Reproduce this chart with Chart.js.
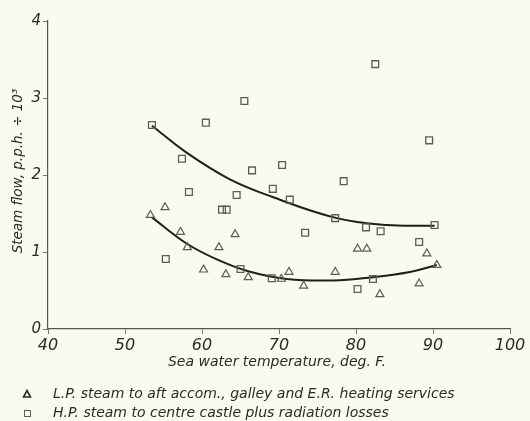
<!DOCTYPE html>
<html>
<head>
<meta charset="utf-8">
<script src="https://cdn.jsdelivr.net/npm/chart.js@4.4.0/dist/chart.umd.min.js"></script>
<style>
    html, body { margin: 0; padding: 0; background: #fbfaee; }
    #wrap { width: 530px; height: 421px; }
</style>
</head>
<body>
<div id="wrap"><canvas id="steamChart" width="530" height="421"></canvas></div>
<script>
// L.P. steam readings (triangles)
const lpTemp = [53.3, 55.2, 57.2, 58.1, 60.2, 62.2, 63.1, 64.3, 66.0, 70.3, 71.3, 73.2, 77.3, 80.2, 81.4, 83.1, 88.2, 89.2, 90.5];
const lpFlow = [1.48, 1.58, 1.26, 1.06, 0.77, 1.06, 0.71, 1.23, 0.67, 0.65, 0.74, 0.56, 0.74, 1.04, 1.04, 0.45, 0.59, 0.98, 0.83];

// H.P. steam readings (squares)
const hpTemp = [53.5, 55.3, 57.4, 58.3, 60.5, 62.6, 63.2, 64.5, 65.0, 65.5, 66.5, 69.05, 69.2, 70.4, 71.4, 73.4, 77.3, 78.4, 80.2, 81.3, 82.2, 82.5, 83.2, 88.2, 89.5, 90.2];
const hpFlow = [2.65, 0.91, 2.21, 1.78, 2.68, 1.55, 1.55, 1.74, 0.78, 2.96, 2.06, 0.66, 1.82, 2.13, 1.68, 1.25, 1.44, 1.92, 0.52, 1.32, 0.65, 3.44, 1.27, 1.13, 2.45, 1.35];

// faired curves through each set
const lpFitTemp = [53.5, 58.0, 62.0, 66.0, 71.0, 77.0, 82.0, 87.0, 90.5];
const lpFitFlow = [1.45, 1.11, 0.90, 0.75, 0.65, 0.63, 0.67, 0.74, 0.83];
const hpFitTemp = [53.5, 58.0, 63.5, 69.0, 77.5, 84.0, 90.2];
const hpFitFlow = [2.64, 2.29, 1.95, 1.72, 1.44, 1.35, 1.34];

const xTicks = [40, 50, 60, 70, 80, 90, 100];
const yTicks = [0, 1, 2, 3, 4];

const xTitle = "Sea water temperature, deg. F.";
const yTitle = "Steam flow, p.p.h. \u00f7 10\u00b3";
const legendLabels = [
    "L.P. steam to aft accom., galley and E.R. heating services",
    "H.P. steam to centre castle plus radiation losses"
];

const PAPER = "#fbfaee";
const INK = "#2a2a2a";
const MARK = "#5c5c5c";
const FONT = "'DejaVu Sans', sans-serif";

function toPoints(xs, ys) {
    return xs.map((x, i) => ({ x: x, y: ys[i] }));
}

const paperPlugin = {
    id: "paper",
    beforeDraw(chart) {
        const ctx = chart.ctx;
        ctx.save();
        ctx.fillStyle = PAPER;
        ctx.fillRect(0, 0, chart.width, chart.height);
        ctx.restore();
    }
};

// axis titles and the key underneath
const captionPlugin = {
    id: "captions",
    afterDraw(chart) {
        const ctx = chart.ctx;
        ctx.save();
        ctx.fillStyle = INK;
        ctx.textBaseline = "middle";

        ctx.font = "italic 14px " + FONT;
        ctx.textAlign = "center";
        ctx.fillText(xTitle, 277, 362);

        ctx.save();
        ctx.translate(18, 171);
        ctx.rotate(-Math.PI / 2);
        ctx.font = "italic 13.5px " + FONT;
        ctx.fillText(yTitle, 0, 0);
        ctx.restore();

        ctx.textAlign = "left";
        ctx.font = "italic 14px " + FONT;
        ctx.fillText(legendLabels[0], 53, 394);
        ctx.fillText(legendLabels[1], 53, 413);

        ctx.strokeStyle = INK;
        ctx.lineWidth = 1.6;
        ctx.beginPath();
        ctx.moveTo(27, 390.5);
        ctx.lineTo(30.5, 397);
        ctx.lineTo(23.5, 397);
        ctx.closePath();
        ctx.stroke();

        ctx.strokeStyle = MARK;
        ctx.lineWidth = 1;
        ctx.strokeRect(24.5, 410.5, 6, 6);
        ctx.restore();
    }
};

const ctx = document.getElementById("steamChart");

new Chart(ctx, {
    type: "scatter",
    data: {
        datasets: [
            {
                data: toPoints(lpTemp, lpFlow),
                pointStyle: "triangle",
                pointRadius: 4.6,
                pointBorderWidth: 1.2,
                pointBorderColor: MARK,
                pointBackgroundColor: "rgba(0,0,0,0)"
            },
            {
                data: toPoints(hpTemp, hpFlow),
                pointStyle: "rect",
                pointRadius: 4.8,
                pointBorderWidth: 1.3,
                pointBorderColor: MARK,
                pointBackgroundColor: "rgba(0,0,0,0)"
            },
            {
                data: toPoints(lpFitTemp, lpFitFlow),
                showLine: true,
                tension: 0.4,
                borderColor: "#1f1f1f",
                borderWidth: 2,
                pointRadius: 0
            },
            {
                data: toPoints(hpFitTemp, hpFitFlow),
                showLine: true,
                tension: 0.4,
                borderColor: "#1f1f1f",
                borderWidth: 2,
                pointRadius: 0
            }
        ]
    },
    options: {
        responsive: false,
        animation: false,
        devicePixelRatio: 1,
        layout: { padding: { top: 21, right: 20, left: 0, bottom: 0 } },
        plugins: {
            legend: { display: false },
            tooltip: { enabled: false }
        },
        scales: {
            x: {
                type: "linear",
                min: 40,
                max: 100,
                afterBuildTicks: s => { s.ticks = xTicks.map(v => ({ value: v })); },
                afterFit: s => { s.height = 92; },
                grid: { drawOnChartArea: false, drawTicks: true, tickLength: 5, color: "#777" },
                border: { color: "#555", width: 1.2 },
                ticks: {
                    color: INK,
                    padding: 2,
                    maxRotation: 0,
                    font: { family: FONT, size: 16, style: "italic" }
                }
            },
            y: {
                type: "linear",
                min: 0,
                max: 4,
                afterBuildTicks: s => { s.ticks = yTicks.map(v => ({ value: v })); },
                afterFit: s => { s.width = 48; },
                grid: { drawOnChartArea: false, drawTicks: true, tickLength: 5, color: "#777" },
                border: { color: "#555", width: 1.2 },
                ticks: {
                    color: INK,
                    padding: 2,
                    font: { family: FONT, size: 15, style: "italic" }
                }
            }
        }
    },
    plugins: [paperPlugin, captionPlugin]
});
</script>
</body>
</html>
